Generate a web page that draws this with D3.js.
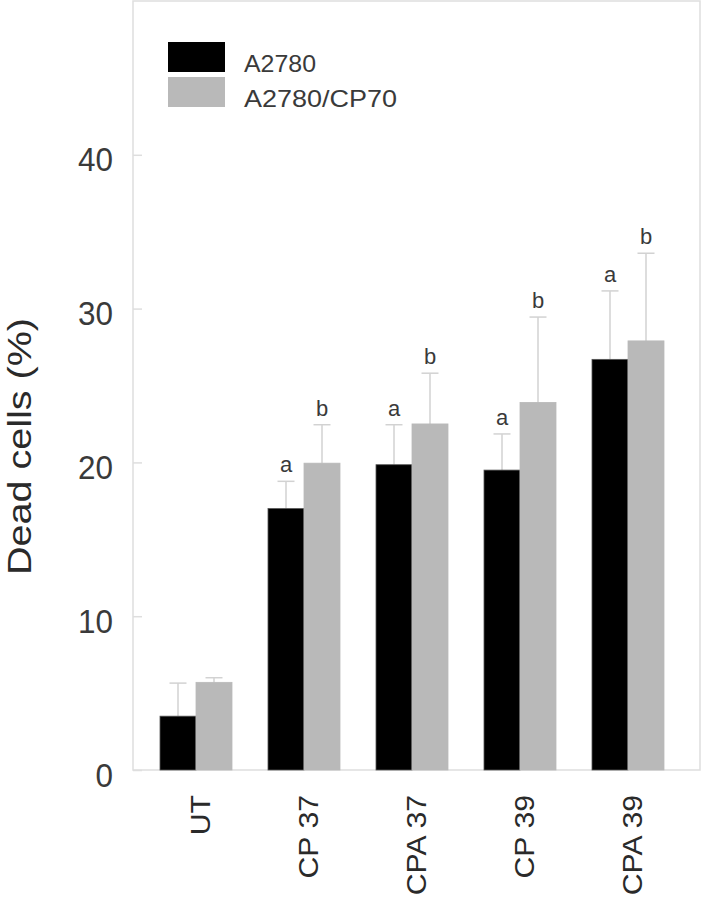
<!DOCTYPE html>
<html>
<head>
<meta charset="utf-8">
<script src="https://cdn.jsdelivr.net/npm/d3@7"></script>
<style>
  html, body { margin: 0; padding: 0; background: #fff; }
  svg { display: block; font-family: "Liberation Sans", Arial, sans-serif; }
</style>
</head>
<body>
<svg id="chart" width="704" height="900"></svg>
<script>
const categories = ["UT", "CP 37", "CPA 37", "CP 39", "CPA 39"];
const seriesNames = ["A2780", "A2780/CP70"];
const a2780 = [3.5, 17.0, 19.85, 19.5, 26.7];
const a2780Err = [2.15, 1.77, 2.6, 2.35, 4.45];
const cp70 = [5.7, 19.95, 22.5, 23.9, 27.9];
const cp70Err = [0.3, 2.5, 3.3, 5.55, 5.7];
const a2780Letters = ["", "a", "a", "a", "a"];
const cp70Letters = ["", "b", "b", "b", "b"];
const yTicks = [0, 10, 20, 30, 40];
const yMax = 50;

const colors = ["#000000", "#b9b9b9"];
const svg = d3.select("#chart");

const mLeft = 133, mRight = 700, mTop = 1, mBottom = 770;

const y = d3.scaleLinear().domain([0, yMax]).range([mBottom, mTop]);
const x0 = d3.scaleBand().domain(categories).range([142, 682])
  .paddingInner(1/3).paddingOuter(1/6);
const x1 = d3.scaleBand().domain(seriesNames).range([0, x0.bandwidth()]).padding(0);

// frame
svg.append("rect")
  .attr("x", mLeft).attr("y", mTop)
  .attr("width", mRight - mLeft).attr("height", mBottom - mTop)
  .attr("fill", "none").attr("stroke", "#dedede").attr("stroke-width", 1.5);

// y axis
const yAxis = d3.axisLeft(y).tickValues(yTicks).tickSize(-9).tickPadding(20).tickFormat(d3.format("d"));
const gy = svg.append("g").attr("transform", `translate(${mLeft},0)`).call(yAxis);
gy.select(".domain").remove();
gy.selectAll(".tick line").attr("stroke", "#dedede").attr("stroke-width", 1.5);
gy.selectAll(".tick text").attr("font-size", 34).attr("fill", "#3a3a3a")
  .attr("font-family", "'Liberation Sans', Arial, sans-serif")
  .attr("dy", 16)
  .attr("x", -20)
  .attr("transform", "scale(1,1)")
  .each(function() {
    const t = d3.select(this);
    const n = t.text().length;
    t.attr("textLength", n * 17.5).attr("lengthAdjust", "spacingAndGlyphs");
  });

// y title
svg.append("text")
  .attr("transform", `translate(31,446.5) rotate(-90)`)
  .attr("text-anchor", "middle")
  .attr("font-size", 34)
  .attr("fill", "#2a2a2a")
  .attr("x", -128.5)
  .attr("textLength", 257)
  .attr("lengthAdjust", "spacingAndGlyphs")
  .attr("text-anchor", "start")
  .text("Dead cells (%)");

// data rows
const rows = categories.map((c, i) => ({
  cat: c,
  vals: [
    { s: seriesNames[0], v: a2780[i], e: a2780Err[i], l: a2780Letters[i], c: colors[0] },
    { s: seriesNames[1], v: cp70[i], e: cp70Err[i], l: cp70Letters[i], c: colors[1] }
  ]
}));

const g = svg.selectAll("g.grp").data(rows).join("g")
  .attr("class", "grp")
  .attr("transform", d => `translate(${x0(d.cat)},0)`);

// error bars (drawn behind bars)
g.selectAll("g.err").data(d => d.vals).join("g").attr("class", "err").each(function(d) {
  const cx = x1(d.s) + x1.bandwidth() / 2;
  const sel = d3.select(this);
  sel.append("line")
    .attr("x1", cx).attr("x2", cx)
    .attr("y1", y(d.v)).attr("y2", y(d.v + d.e))
    .attr("stroke", "#d2d2d2").attr("stroke-width", 1.5);
  sel.append("line")
    .attr("x1", cx - 8.5).attr("x2", cx + 8.5)
    .attr("y1", y(d.v + d.e)).attr("y2", y(d.v + d.e))
    .attr("stroke", "#d2d2d2").attr("stroke-width", 1.5);
  if (d.l) {
    sel.append("text")
      .attr("x", cx).attr("y", y(d.v + d.e) - 9)
      .attr("text-anchor", "middle")
      .attr("font-size", 22)
      .attr("fill", "#3a3a3a")
      .text(d.l);
  }
});

g.selectAll("rect.bar").data(d => d.vals).join("rect")
  .attr("class", "bar")
  .attr("x", d => x1(d.s))
  .attr("y", d => y(d.v))
  .attr("width", x1.bandwidth())
  .attr("height", d => y(0) - y(d.v))
  .attr("fill", d => d.c)
  .attr("stroke", d => d.s === seriesNames[0] ? "#555" : "#b9b9b9")
  .attr("stroke-width", 0.8);

// x axis labels (rotated)
const xAxis = d3.axisBottom(x0).tickSize(0).tickPadding(0);
const gx = svg.append("g").attr("transform", `translate(0,${mBottom})`).call(xAxis);
gx.select(".domain").remove();
gx.selectAll(".tick text")
  .attr("font-size", 27)
  .attr("fill", "#2a2a2a")
  .attr("font-family", "'Liberation Sans', Arial, sans-serif")
  .attr("text-anchor", "end")
  .attr("transform", "rotate(-90) scale(1.12,1)")
  .attr("x", -22.3).attr("y", 0).attr("dy", 13.5);

// legend
const legendWidths = [72, 153];
const legend = svg.append("g");
seriesNames.forEach((s, i) => {
  legend.append("rect")
    .attr("x", 168).attr("y", 42 + i * 35)
    .attr("width", 57).attr("height", 30)
    .attr("fill", colors[i]);
  legend.append("text")
    .attr("x", 244).attr("y", 72 + i * 35)
    .attr("font-size", 24)
    .attr("fill", "#3a3a3a")
    .attr("textLength", legendWidths[i])
    .attr("lengthAdjust", "spacingAndGlyphs")
    .text(s);
});
</script>
</body>
</html>
